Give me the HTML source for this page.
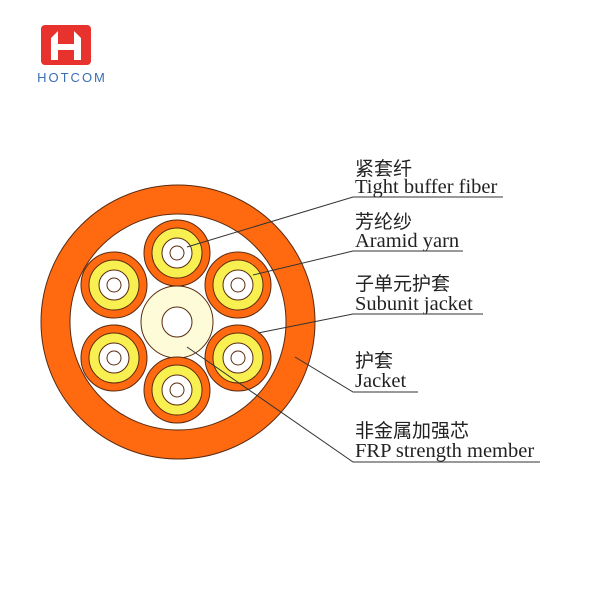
<!DOCTYPE html>
<html><head><meta charset="utf-8"><style>
body{margin:0;background:#fff;}
svg{display:block}
.cn{font-family:"Liberation Sans","Noto Sans CJK SC",sans-serif;font-size:19px;fill:#222}
.en{font-family:"Liberation Serif",serif;font-size:20.5px;fill:#222}
</style></head><body>
<svg width="600" height="600" viewBox="0 0 600 600" xmlns="http://www.w3.org/2000/svg">
<rect x="41" y="25" width="50" height="40" rx="4" fill="#e8322d"/>
<path d="M51 52 L51 38 L58 31 L58 44 L74 44 L74 31 L81 38 L81 60 L74 60 L74 50 L58 50 L58 60 L51 60 Z" fill="#fff"/>
<text x="72" y="82" text-anchor="middle" font-family="Liberation Sans,sans-serif" font-size="13" letter-spacing="2" fill="#3a6fb7">HOTCOM</text>
<g stroke="#5a2a10" stroke-width="1">
<circle cx="178" cy="322" r="137" fill="#ff6a10"/>
<circle cx="178" cy="322" r="108" fill="#fff"/>
<circle cx="177" cy="322" r="36" fill="#fdfbd8"/>
<circle cx="177" cy="322" r="15" fill="#fff"/>
</g>
<g stroke="#5a2a10" stroke-width="1">
<g transform="translate(177,253)"><circle r="33" fill="#ff6a10"/><circle r="25" fill="#f8f050"/><circle r="15" fill="#fff"/><circle r="7" fill="#fff"/></g>
<g transform="translate(238,285)"><circle r="33" fill="#ff6a10"/><circle r="25" fill="#f8f050"/><circle r="15" fill="#fff"/><circle r="7" fill="#fff"/></g>
<g transform="translate(238,358)"><circle r="33" fill="#ff6a10"/><circle r="25" fill="#f8f050"/><circle r="15" fill="#fff"/><circle r="7" fill="#fff"/></g>
<g transform="translate(177,390)"><circle r="33" fill="#ff6a10"/><circle r="25" fill="#f8f050"/><circle r="15" fill="#fff"/><circle r="7" fill="#fff"/></g>
<g transform="translate(114,358)"><circle r="33" fill="#ff6a10"/><circle r="25" fill="#f8f050"/><circle r="15" fill="#fff"/><circle r="7" fill="#fff"/></g>
<g transform="translate(114,285)"><circle r="33" fill="#ff6a10"/><circle r="25" fill="#f8f050"/><circle r="15" fill="#fff"/><circle r="7" fill="#fff"/></g>
</g>
<g stroke="#333" stroke-width="1" fill="none">
<polyline points="187,247 353,197 503,197"/>
<polyline points="253,275 353,251 463,251"/>
<polyline points="258,333 353,314 483,314"/>
<polyline points="295,357 353,392 418,392"/>
<polyline points="187,347 353,462 540,462"/>
</g>
<text class="cn" x="355" y="175">紧套纤</text>
<text class="en" x="355" y="193">Tight buffer fiber</text>
<text class="cn" x="355" y="228">芳纶纱</text>
<text class="en" x="355" y="247">Aramid yarn</text>
<text class="cn" x="355" y="290">子单元护套</text>
<text class="en" x="355" y="310">Subunit jacket</text>
<text class="cn" x="355" y="367">护套</text>
<text class="en" x="355" y="387">Jacket</text>
<text class="cn" x="355" y="437">非金属加强芯</text>
<text class="en" x="355" y="457">FRP strength member</text>
</svg>
</body></html>
